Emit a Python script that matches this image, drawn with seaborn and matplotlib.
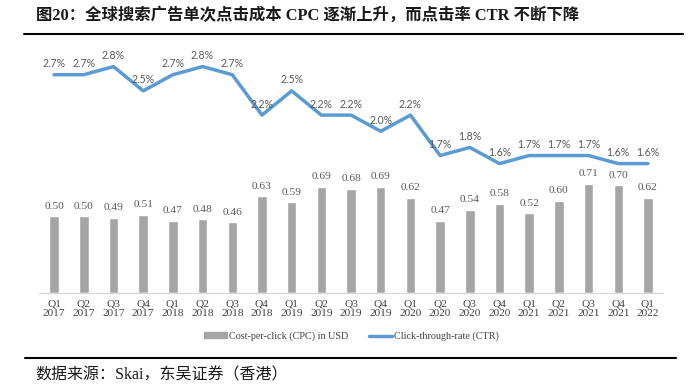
import numpy as np
import pandas as pd
import seaborn as sns
import matplotlib.pyplot as plt
from matplotlib.lines import Line2D

quarters = ['Q1\n2017', 'Q2\n2017', 'Q3\n2017', 'Q4\n2017',
            'Q1\n2018', 'Q2\n2018', 'Q3\n2018', 'Q4\n2018',
            'Q1\n2019', 'Q2\n2019', 'Q3\n2019', 'Q4\n2019',
            'Q1\n2020', 'Q2\n2020', 'Q3\n2020', 'Q4\n2020',
            'Q1\n2021', 'Q2\n2021', 'Q3\n2021', 'Q4\n2021',
            'Q1\n2022']
cpc = [0.50, 0.50, 0.49, 0.51, 0.47, 0.48, 0.46, 0.63, 0.59, 0.69, 0.68,
       0.69, 0.62, 0.47, 0.54, 0.58, 0.52, 0.60, 0.71, 0.70, 0.62]
ctr = [2.7, 2.7, 2.8, 2.5, 2.7, 2.8, 2.7, 2.2, 2.5, 2.2, 2.2,
       2.0, 2.2, 1.7, 1.8, 1.6, 1.7, 1.7, 1.7, 1.6, 1.6]

title = '图20：全球搜索广告单次点击成本 CPC 逐渐上升，而点击率 CTR 不断下降'
source = '数据来源：Skai，东吴证券（香港）'
bar_name = 'Cost-per-click (CPC) in USD'
line_name = 'Click-through-rate (CTR)'

df = pd.DataFrame({'quarter': quarters, 'cpc': cpc, 'ctr': ctr})
df['pos'] = np.arange(len(df))

sns.set_style('white')
plt.rcParams['font.family'] = ['Liberation Serif', 'Noto Sans CJK SC']

bar_color = '#a5a5a5'
line_color = '#5b9bd5'
label_color = '#595959'

fig = plt.figure(figsize=(6.89, 3.92), dpi=100)
ax = fig.add_axes([0.057, 0.2526, 0.905, 0.627])

sns.barplot(data=df, x='quarter', y='cpc', color=bar_color, width=0.32,
            saturation=1, ax=ax)
ax.set_xlim(-0.5, len(df) - 0.5)
ax.set_ylim(0, 1.6)
ax.set_xlabel('')
ax.set_ylabel('')
ax.set_yticks([])
ax.tick_params(axis='x', length=0, pad=5, labelsize=8.2, labelcolor='#404040')
for t in ax.get_xticklabels():
    t.set_linespacing(1.0)
for s in ['top', 'right', 'left']:
    ax.spines[s].set_visible(False)
ax.spines['bottom'].set_color('#d9d9d9')
ax.spines['bottom'].set_linewidth(1)

for p, v in zip(df['pos'], df['cpc']):
    ax.annotate(f'{v:.2f}', (p, v), xytext=(0, 4), textcoords='offset points',
                ha='center', va='bottom', fontsize=8.2, color=label_color,
                family='Liberation Serif')

ax2 = ax.twinx()
sns.lineplot(data=df, x='pos', y='ctr', color=line_color, linewidth=2.5,
             ax=ax2)
ax2.set_ylim(0, 3.04)
ax2.set_xlim(-0.5, len(df) - 0.5)
ax2.set_yticks([])
ax2.set_ylabel('')
ax2.set_xlabel('')
for s in ['top', 'right', 'left', 'bottom']:
    ax2.spines[s].set_visible(False)

for p, v in zip(df['pos'], df['ctr']):
    ax2.annotate(f'{v:.1f}%', (p, v), xytext=(0, 4), textcoords='offset points',
                 ha='center', va='bottom', fontsize=7.6, color=label_color,
                 family='Lato')

handles = [plt.Rectangle((0, 0), 1, 1, color=bar_color),
           Line2D([0], [0], color=line_color, lw=2.5)]
fig.legend(handles, [bar_name, line_name], loc='center', ncol=2,
           bbox_to_anchor=(0.51, 0.142), frameon=False, fontsize=7.3,
           handlelength=2.2, handleheight=0.5, handletextpad=0.2,
           columnspacing=2.1, labelcolor='#404040')

fig.text(0.052, 0.962, title, fontsize=11.8, fontweight='bold', ha='left',
         va='center', color='#1a1a1a')
fig.add_artist(Line2D([0.035, 0.992], [0.913, 0.913], color='black', lw=1.5))
fig.add_artist(Line2D([0.037, 0.981], [0.087, 0.087], color='black', lw=1.5))
fig.text(0.052, 0.043, source, fontsize=11.5, ha='left', va='center',
         color='#1a1a1a')

fig.savefig('out.png', dpi=100)
